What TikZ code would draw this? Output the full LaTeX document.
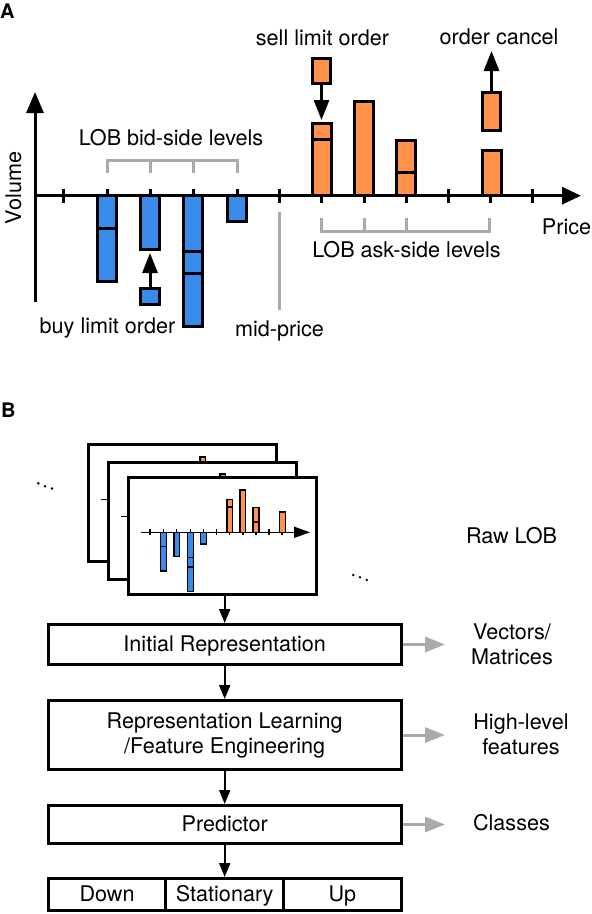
\documentclass[tikz,border=0pt]{standalone}
\usepackage{fontspec}
\setmainfont{TeX Gyre Heros}
\usetikzlibrary{arrows.meta}
\definecolor{barblue}{RGB}{56,139,234}
\definecolor{barorange}{RGB}{255,145,72}
\definecolor{lgray}{RGB}{170,170,170}

\newcommand{\lobchart}{%
  \foreach \tx in {63,107,150,193,237,279,321,364,406,448,490,532}
    \draw[tickl] (\tx,188.7) -- (\tx,202.7);
  % bid side
  \draw[bluebar] (97.5,195.7) rectangle (116.5,281.5);
  \draw[divl] (97.5,228) -- (116.5,228);
  \draw[bluebar] (140.5,195.7) rectangle (159.5,249.5);
  \draw[bluebar] (183.5,195.7) rectangle (202.5,326.5);
  \draw[divl] (183.5,251) -- (202.5,251);
  \draw[divl] (183.5,273) -- (202.5,273);
  \draw[bluebar] (227.5,195.7) rectangle (246.5,221.5);
  % ask side
  \draw[orangebar] (312,123.5) rectangle (331,195.7);
  \draw[divl] (312,139.3) -- (331,139.3);
  \draw[orangebar] (354,101.5) rectangle (373,195.7);
  \draw[orangebar] (396.5,140.5) rectangle (415.5,195.7);
  \draw[divl] (396.5,172.7) -- (415.5,172.7);
  \draw[orangebar] (482,150.5) rectangle (501,195.7);
  % price axis
  \draw[axisl] (35,195.7) -- (581,195.7);
}

\begin{document}
\begin{tikzpicture}[x=1pt,y=-1pt,
  txt/.style={font=\fontsize{21.6}{25}\selectfont, inner sep=0pt},
  panellabel/.style={font=\fontsize{20}{20}\selectfont\bfseries, inner sep=0pt},
  grayl/.style={draw=lgray, line width=3pt},
  ordarrow/.style={line width=3pt, -{Triangle[length=20pt,width=15pt]}},
  bluebox/.style={draw=black, fill=barblue, line width=3pt, inner sep=0pt},
  orangebox/.style={draw=black, fill=barorange, line width=3pt, inner sep=0pt},
  framebox/.style={draw=black, fill=white, line width=3pt, inner sep=0pt, minimum width=188pt, minimum height=117pt},
  flowbox/.style={draw=black, line width=3pt, inner sep=0pt, font=\fontsize{21.6}{25}\selectfont, minimum width=353pt},
  oneline/.style={text height=15pt, text depth=1pt},
  flowarr/.style={line width=2pt, -{Triangle[length=14pt,width=11pt]}},
  grayarr/.style={draw=lgray, line width=3pt, -{Triangle[length=20pt,width=15pt]}, color=lgray},
  dotm/.style={fill=black}
]
\useasboundingbox (0,0) rectangle (592,914);

% ================= Panel A =================
\node[panellabel, anchor=base west] (labA) at (0,18) {A};

\begin{scope}[
  tickl/.style={line width=3pt},
  divl/.style={line width=3pt},
  bluebar/.style={draw=black, fill=barblue, line width=3pt},
  orangebar/.style={draw=black, fill=barorange, line width=3pt},
  axisl/.style={line width=3pt, -{Triangle[length=19pt,width=17pt]}}]
  \lobchart
  \draw[line width=3pt, -{Triangle[length=21pt,width=17pt]}] (35,301.7) -- (35,92);
\end{scope}

% brackets and mid-price
\draw[grayl] (107,173) -- (107,160.5) -- (237,160.5) -- (237,173);
\draw[grayl] (150,160.5) -- (150,173) (193,160.5) -- (193,173);
\draw[grayl] (321,218) -- (321,231) -- (489.5,231) -- (489.5,218);
\draw[grayl] (364,218) -- (364,231) (406,218) -- (406,231);
\draw[grayl] (279,212) -- (279,310);

% order events
\node[bluebox, minimum width=19pt, minimum height=16pt] (buy) at (150,296.5) {};
\coordinate (buytip) at (150,253);
\draw[ordarrow] (buy.north) -- (buytip);
\node[orangebox, minimum width=18pt, minimum height=25pt] (sell) at (321.5,71) {};
\coordinate (selltip) at (321.5,120);
\draw[ordarrow] (sell.south) -- (selltip);
\node[orangebox, minimum width=18pt, minimum height=38pt] (cancel) at (491.5,111.5) {};
\coordinate (canceltip) at (491.5,51);
\draw[ordarrow] (cancel.north) -- (canceltip);

% labels
\node[txt, anchor=base] (tsell) at (322.5,45) {sell limit order};
\node[txt, anchor=base] (tcancel) at (499,44) {order cancel};
\node[txt, anchor=base] (tbid) at (171,145) {LOB bid-side levels};
\node[txt, anchor=base] (task) at (406.5,257.7) {LOB ask-side levels};
\node[txt, anchor=base] (tprice) at (566.5,234) {Price};
\node[txt, anchor=base] (tbuy) at (107.5,333) {buy limit order};
\node[txt, anchor=base] (tmid) at (279.5,336) {mid-price};
\node[txt, rotate=90] (tvol) at (13.5,188) {Volume};

% ================= Panel B =================
\node[panellabel, anchor=base west] (labB) at (1,417) {B};

\node[framebox] (f1) at (182.5,503) {};
\begin{scope}[shift={(90.53,411.23)}, xscale=0.309, yscale=0.45,
  tickl/.style={line width=1.2pt},
  divl/.style={line width=1.2pt},
  bluebar/.style={draw=black, fill=barblue, line width=1.2pt},
  orangebar/.style={draw=black, fill=barorange, line width=1.2pt},
  axisl/.style={line width=1.5pt, -{Triangle[length=16pt,width=11pt]}}]
  \lobchart
\end{scope}
\node[framebox] (f2) at (202.5,520.5) {};
\begin{scope}[shift={(110.53,428.23)}, xscale=0.309, yscale=0.45,
  tickl/.style={line width=1.2pt},
  divl/.style={line width=1.2pt},
  bluebar/.style={draw=black, fill=barblue, line width=1.2pt},
  orangebar/.style={draw=black, fill=barorange, line width=1.2pt},
  axisl/.style={line width=1.5pt, -{Triangle[length=16pt,width=11pt]}}]
  \lobchart
\end{scope}
\node[framebox] (f3) at (222.5,536) {};
\begin{scope}[shift={(130.53,444.23)}, xscale=0.309, yscale=0.45,
  tickl/.style={line width=1.2pt},
  divl/.style={line width=1.2pt},
  bluebar/.style={draw=black, fill=barblue, line width=1.2pt},
  orangebar/.style={draw=black, fill=barorange, line width=1.2pt},
  axisl/.style={line width=1.5pt, -{Triangle[length=16pt,width=11pt]}}]
  \lobchart
\end{scope}

% dots
\fill[dotm] (38.3,483.3) circle (1.4pt) (45,486.3) circle (1.4pt) (52,488.5) circle (1.4pt);
\fill[dotm] (353.3,575) circle (1.4pt) (360,577.3) circle (1.4pt) (366.7,580) circle (1.4pt);

\node[txt, anchor=base] (raw) at (511.5,543) {Raw LOB};

% flow boxes
\node[flowbox, oneline, minimum height=40pt] (ir) at (224.7,644.5) {Initial Representation};
\node[flowbox, minimum height=69pt, align=center] (rl) at (224.7,735) {Representation Learning\\/Feature Engineering};
\node[flowbox, oneline, minimum height=38pt] (pred) at (224.7,824.5) {Predictor};
\node[flowbox, oneline, minimum width=117.67pt, minimum height=32pt] (down) at (107.03,894.5) {Down};
\node[flowbox, oneline, minimum width=117.67pt, minimum height=32pt] (stat) at (224.7,894.5) {Stationary};
\node[flowbox, oneline, minimum width=117.67pt, minimum height=32pt] (up) at (342.37,894.5) {Up};

\draw[flowarr] (ir.north |- f3.south) -- (ir.north);
\draw[flowarr] (ir.south) -- (rl.north);
\draw[flowarr] (rl.south) -- (pred.north);
\draw[flowarr] (pred.south) -- (stat.north);

\coordinate (g1) at (445,644.5);
\coordinate (g2) at (445,735);
\coordinate (g3) at (445,824.5);
\draw[grayarr] (ir.east) -- (g1);
\draw[grayarr] (rl.east) -- (g2);
\draw[grayarr] (pred.east) -- (g3);

\node[txt, align=center] (vm) at (512,644.3) {Vectors/\\Matrices};
\node[txt, align=center] (hl) at (521,733.8) {High-level\\features};
\node[txt, anchor=base] (cl) at (511.5,830.7) {Classes};
\end{tikzpicture}
\end{document}
